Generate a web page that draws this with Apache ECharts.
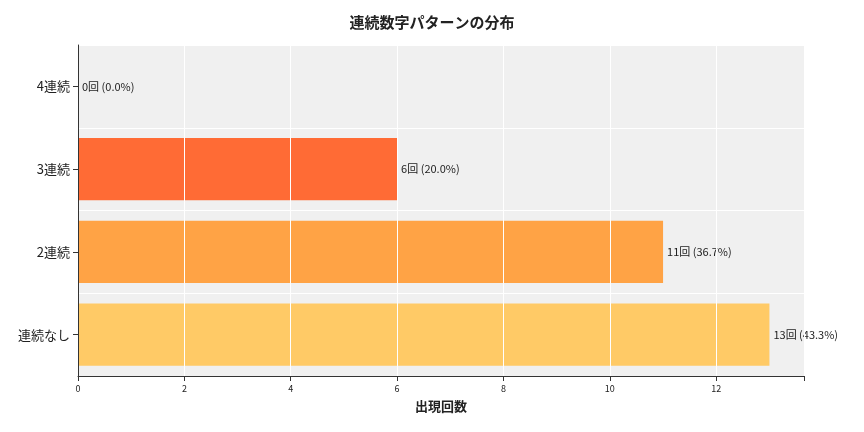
<!DOCTYPE html>
<html><head><meta charset="utf-8">
<script src="https://cdn.jsdelivr.net/npm/echarts@6/dist/echarts.min.js"></script>
<style>html,body{margin:0;padding:0;background:#fff}#c{width:864px;height:432px}</style>
</head><body><div id="c"></div>
<script>
const categories = ['連続なし', '2連続', '3連続', '4連続'];
const counts = [13, 11, 6, 0];
const percents = ['43.3', '36.7', '20.0', '0.0'];
const colors = ['#FFCA66', '#FFA345', '#FF6B35', '#FF3D1F'];
const xTicks = [0, 2, 4, 6, 8, 10, 12];
const F = 'Noto Sans CJK JP';
const chart = echarts.init(document.getElementById('c'));
chart.setOption({
  animation: false,
  textStyle: { fontFamily: F },
  title: { text: '連続数字パターンの分布', left: 'center', top: 10,
    textStyle: { fontFamily: F, fontSize: 15, fontWeight: 'bold', color: '#222' } },
  grid: { left: 78, right: 60, top: 45, bottom: 56, show: true, backgroundColor: '#f0f0f0', borderWidth: 0 },
  xAxis: { type: 'value', min: 0, max: 13.65, interval: 2, z: 5,
    name: '出現回数', nameLocation: 'middle', nameGap: 24,
    nameTextStyle: { fontFamily: F, fontSize: 13, fontWeight: 'bold', color: '#222' },
    axisLine: { show: true, lineStyle: { color: '#333' } },
    axisTick: { show: true, lineStyle: { color: '#333' } },
    axisLabel: { fontSize: 9, color: '#222', formatter: v => xTicks.includes(v) ? String(v) : '' },
    splitLine: { show: true, lineStyle: { color: '#fff', width: 1 } } },
  yAxis: { type: 'category', data: categories, z: 5,
    axisLine: { show: true, lineStyle: { color: '#333' } },
    axisTick: { show: true, alignWithLabel: true, lineStyle: { color: '#333' } },
    axisLabel: { fontSize: 13, color: '#222' },
    splitLine: { show: true, lineStyle: { color: '#fff', width: 1 } } },
  series: [{ type: 'bar', barCategoryGap: '25%', z: 2,
    data: counts.map((v, i) => ({ value: v, itemStyle: { color: colors[i] } })),
    label: { show: true, position: 'right', distance: 4, fontSize: 11, color: '#222',
      formatter: p => `${counts[p.dataIndex]}回 (${percents[p.dataIndex]}%)` } }]
});
</script></body></html>
